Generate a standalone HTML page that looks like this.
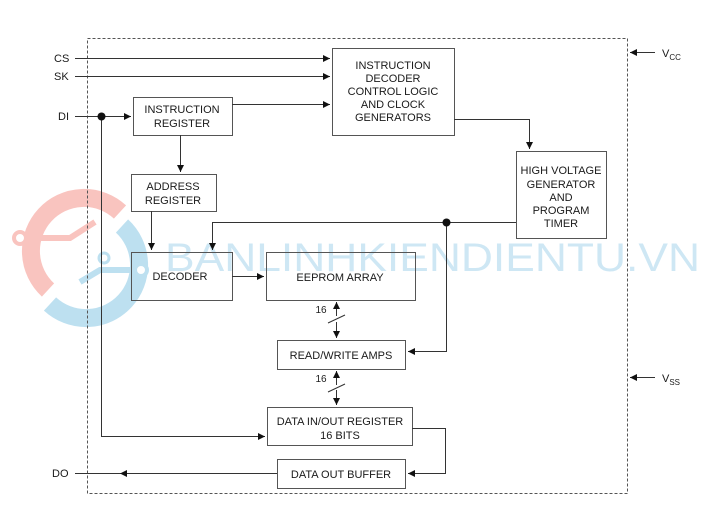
<!DOCTYPE html>
<html><head><meta charset="utf-8"><style>
html,body{margin:0;padding:0;background:#fff;}
svg{display:block;}
text{font-family:"Liberation Sans",sans-serif;font-size:11px;fill:#1a1a1a;}
</style></head><body>
<svg width="718" height="511" viewBox="0 0 718 511" xmlns="http://www.w3.org/2000/svg">
<defs>
<marker id="a" viewBox="0 0 10 10" refX="10" refY="5" markerWidth="10" markerHeight="7" markerUnits="userSpaceOnUse" orient="auto"><path d="M0,0 L10,5 L0,10 z" fill="#111"/></marker>
</defs>
<!-- watermark -->
<g opacity="0.5">
<path d="M48,290 A44,44 0 0 1 120,212" fill="none" stroke="#f58a80" stroke-width="18"/>
<path d="M122,226 A44,44 0 0 1 50,304" fill="none" stroke="#7ec3e3" stroke-width="18"/>
<line x1="30" y1="318" x2="130" y2="205" stroke="#fff" stroke-width="5"/>
<path d="M20,238 L70,238 L95,222" fill="none" stroke="#f58a80" stroke-width="6"/>
<circle cx="20" cy="238" r="6" fill="#fff" stroke="#f58a80" stroke-width="4"/>
<path d="M140,270 L100,270 L80,282" fill="none" stroke="#7ec3e3" stroke-width="6"/>
<circle cx="141" cy="270" r="6" fill="#fff" stroke="#7ec3e3" stroke-width="4"/>
<circle cx="104" cy="258" r="5" fill="#fff" stroke="#7ec3e3" stroke-width="3"/>
<text x="165" y="271" style="font-size:40px;fill:#9fd0ea" textLength="535" lengthAdjust="spacingAndGlyphs">BANLINHKIENDIENTU.VN</text>
</g>
<rect x="87.5" y="38.5" width="540" height="455" fill="none" stroke="#555" stroke-dasharray="3,2"/>
<g stroke="#555" stroke-width="1" fill="none">
<rect x="332.5" y="48.5" width="122" height="87"/>
<rect x="133.5" y="97.5" width="99" height="38"/>
<rect x="131.5" y="174.5" width="85" height="37"/>
<rect x="516.5" y="151.5" width="90" height="87"/>
<rect x="131.5" y="252.5" width="101" height="48"/>
<rect x="266.5" y="252.5" width="149" height="48"/>
<rect x="277.5" y="340.5" width="128" height="29"/>
<rect x="267.5" y="407.5" width="145" height="38"/>
<rect x="277.5" y="459.5" width="128" height="29"/>
</g>
<g stroke="#333" stroke-width="1" fill="none">
<line x1="75" y1="58.5" x2="330" y2="58.5" marker-end="url(#a)"/>
<line x1="75" y1="76.5" x2="330" y2="76.5" marker-end="url(#a)"/>
<line x1="232" y1="104.5" x2="330" y2="104.5" marker-end="url(#a)"/>
<line x1="75" y1="116.5" x2="131" y2="116.5" marker-end="url(#a)"/>
<polyline points="101.5,116 101.5,436.5 265,436.5" marker-end="url(#a)"/>
<line x1="180.5" y1="135" x2="180.5" y2="172" marker-end="url(#a)"/>
<polyline points="454,119.5 529.5,119.5 529.5,149" marker-end="url(#a)"/>
<polyline points="516,222.5 212.5,222.5 212.5,250" marker-end="url(#a)"/>
<polyline points="446.5,222 446.5,351.5 408,351.5" marker-end="url(#a)"/>
<line x1="151.5" y1="211" x2="151.5" y2="250" marker-end="url(#a)"/>
<line x1="232" y1="276.5" x2="264" y2="276.5" marker-end="url(#a)"/>
<line x1="336.5" y1="316" x2="336.5" y2="302" marker-end="url(#a)"/>
<line x1="336.5" y1="322" x2="336.5" y2="338" marker-end="url(#a)"/>
<line x1="336.5" y1="385" x2="336.5" y2="371" marker-end="url(#a)"/>
<line x1="336.5" y1="390" x2="336.5" y2="405" marker-end="url(#a)"/>
<line x1="328" y1="323" x2="345" y2="315"/>
<line x1="328" y1="392" x2="345" y2="384"/>
<polyline points="412,428.5 445.5,428.5 445.5,473.5 408,473.5" marker-end="url(#a)"/>
<line x1="277" y1="473.5" x2="120" y2="473.5" marker-end="url(#a)"/>
<line x1="120" y1="473.5" x2="75" y2="473.5"/>
<line x1="655" y1="52.5" x2="630" y2="52.5" marker-end="url(#a)"/>
<line x1="655" y1="377.5" x2="630" y2="377.5" marker-end="url(#a)"/>
</g>
<circle cx="101.5" cy="116.5" r="4" fill="#111"/>
<circle cx="446.5" cy="222.5" r="4" fill="#111"/>
<text x="54" y="62">CS</text>
<text x="54" y="80">SK</text>
<text x="58" y="120">DI</text>
<text x="52" y="477">DO</text>
<text x="662" y="57">V<tspan style="font-size:8px" dy="3">CC</tspan></text>
<text x="662" y="382">V<tspan style="font-size:8px" dy="3">SS</tspan></text>
<g text-anchor="middle">
<text x="393" y="69">INSTRUCTION</text>
<text x="393" y="82">DECODER</text>
<text x="393" y="95">CONTROL LOGIC</text>
<text x="393" y="108">AND CLOCK</text>
<text x="393" y="121">GENERATORS</text>
<text x="182" y="113">INSTRUCTION</text>
<text x="182" y="127">REGISTER</text>
<text x="173" y="190">ADDRESS</text>
<text x="173" y="204">REGISTER</text>
<text x="561" y="174">HIGH VOLTAGE</text>
<text x="561" y="188">GENERATOR</text>
<text x="561" y="201">AND</text>
<text x="561" y="214">PROGRAM</text>
<text x="561" y="227">TIMER</text>
<text x="180" y="280">DECODER</text>
<text x="340" y="281">EEPROM ARRAY</text>
<text x="341" y="359">READ/WRITE AMPS</text>
<text x="340" y="425">DATA IN/OUT REGISTER</text>
<text x="340" y="439">16 BITS</text>
<text x="341" y="478">DATA OUT BUFFER</text>
<text x="321" y="313" style="font-size:10px">16</text>
<text x="321" y="382" style="font-size:10px">16</text>
</g>
</svg>
</body></html>
